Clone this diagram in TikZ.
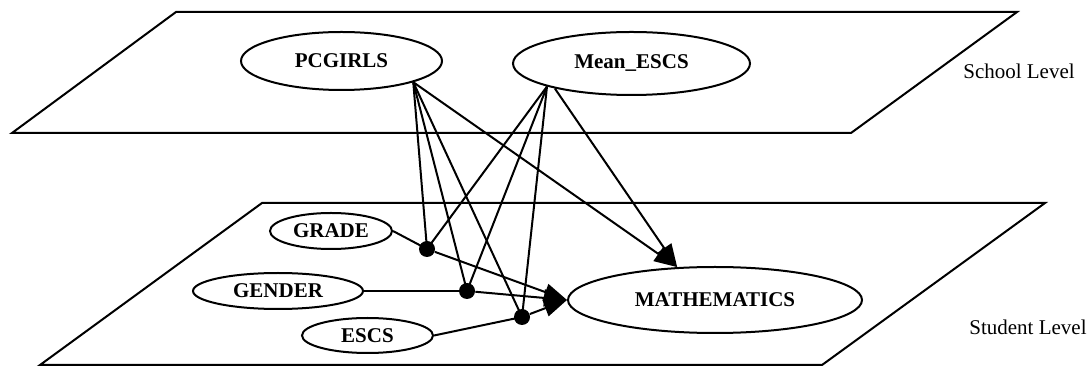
\documentclass[tikz,border=0pt]{standalone}
\usepackage{fontspec}
\setmainfont{Liberation Serif}
\usetikzlibrary{shapes.geometric,arrows.meta}
\begin{document}
\begin{tikzpicture}[x=0.5pt,y=-0.5pt,
  plane/.style={line width=1pt, line join=miter},
  var/.style={ellipse, draw, fill=white, line width=1pt, inner sep=0pt,
    font=\fontsize{10.5}{12}\selectfont\bfseries},
  junction/.style={circle, fill=black, inner sep=0pt, minimum size=8pt},
  link/.style={line width=1pt},
  effect/.style={line width=1pt, -{Triangle[length=11.5pt,width=8.5pt]}},
  level/.style={font=\fontsize{10.5}{12}\selectfont}]
\useasboundingbox (0,0) rectangle (1090,367);

% the two levels as planes
\draw[plane] (176,12) -- (1017,12) -- (851,133) -- (12,133) -- cycle;
\draw[plane] (262,203) -- (1045,203) -- (822,365) -- (40,365) -- cycle;
\node[level] (school) at (1019,71) {School Level};
\node[level] (student) at (1028,327) {Student Level};

% school-level variables
\node[var, minimum width=100.5pt, minimum height=29pt] (pcgirls) at (341.5,61) {PCGIRLS};
\node[var, minimum width=118.5pt, minimum height=31.5pt] (mean) at (631.5,63.5) {Mean\_ESCS};

% student-level variables
\node[var, minimum width=61pt, minimum height=18pt] (grade) at (331,231) {GRADE};
\node[var, minimum width=85pt, minimum height=18pt] (gender) at (278,291) {GENDER};
\node[var, minimum width=65.5pt, minimum height=17.5pt] (escs) at (367.5,335.5) {ESCS};
\node[var, minimum width=147pt, minimum height=33pt] (math) at (715,300) {MATHEMATICS};

% cross-level interaction points on the slopes
\node[junction] (gdot) at (427,249) {};
\node[junction] (ndot) at (467,291) {};
\node[junction] (edot) at (522,317) {};

% student-level effects
\draw[link] (grade.east) -- (gdot.center);
\draw[effect] (gdot) -- (math.west);
\draw[link] (gender.east) -- (ndot.center);
\draw[effect] (ndot) -- (math.west);
\draw[link] (escs.east) -- (edot.center);
\draw[effect] (edot) -- (math.west);

% school-level moderators
\foreach \d in {gdot,ndot,edot} {
  \draw[link] (pcgirls.south east) -- (\d.center);
  \draw[link] (mean.south west) -- (\d.center);
}

% school-level direct effects
\draw[effect] (pcgirls.south east) -- (math.139);
\draw[effect] (mean.198) -- (math.139);
\end{tikzpicture}
\end{document}
